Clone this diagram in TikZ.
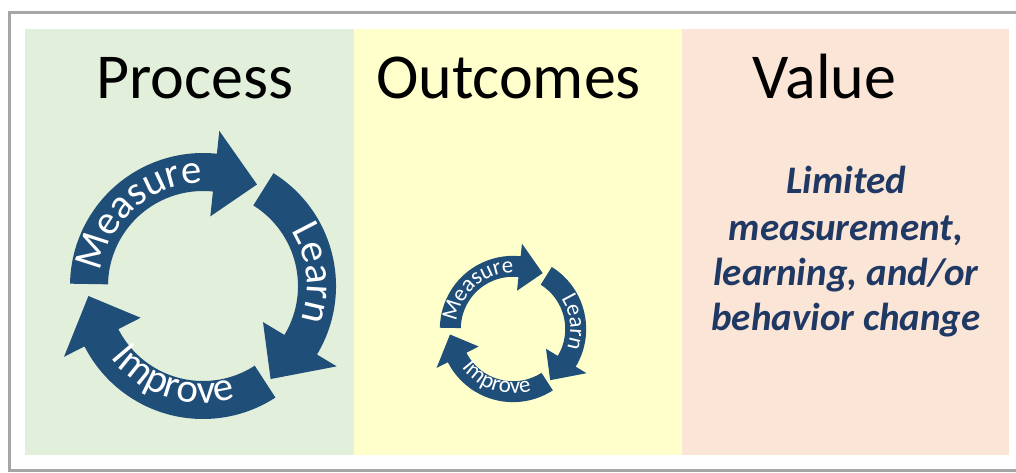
\documentclass[tikz,border=0pt]{standalone}
\usepackage{fontspec}
\setmainfont{Carlito}
\usetikzlibrary{decorations.text}

\definecolor{framegray}{HTML}{A6A6A6}
\definecolor{procgreen}{HTML}{E2EFDA}
\definecolor{outyellow}{HTML}{FFFFCC}
\definecolor{valpeach}{HTML}{FBE5D6}
\definecolor{cycleblue}{HTML}{1F4E79}
\definecolor{valuetext}{HTML}{1F3864}

\tikzset{
  panel/.style={fill=#1, draw=none},
  heading/.style={font=\fontsize{64}{64}\selectfont, text=black, inner sep=0pt, anchor=base},
  valueline/.style={font=\fontsize{39}{39}\selectfont\bfseries\itshape, text=valuetext, inner sep=0pt, anchor=base},
}

% one curved arrow of the cycle: tail angle, head base angle, tip angle
\newcommand\cyclearrow[3]{%
  \fill[cycleblue] (#1:133) arc[start angle=#1, end angle=#2, radius=133]
    -- (#2:156) -- (#3:115) -- (#2:70) -- (#2:95)
    arc[start angle=#2, end angle=#1, radius=95] -- cycle;}

% a word written along an arc of the cycle
\newcommand\arcword[5]{% start angle, end angle, radius, font size, word
  \path[decorate, decoration={text along path, text align=center, text color=white,
      text={|\fontsize{#4}{#4}\selectfont|#5}}]
    (#1:#3) arc[start angle=#1, end angle=#2, radius=#3];}

% the Measure / Learn / Improve cycle: centre x, centre y, scale, font size
\newcommand\drawcycle[4]{%
  \begin{scope}[shift={(#1,#2)}, scale=#3]
    \cyclearrow{179}{84}{62}
    \cyclearrow{58}{-31}{-54}
    \cyclearrow{-57}{-153}{-175}
    \arcword{181}{81}{103}{#4}{Measure}
    \arcword{56.5}{-43.5}{104}{#4}{Learn}
    \arcword{202}{302}{117}{#4}{Improve}
  \end{scope}}

\begin{document}
\begin{tikzpicture}[x=1pt, y=1pt]
  \useasboundingbox (0,0) rectangle (1016,472);

  % outer frame, open on the right
  \draw[framegray, line width=3pt] (1020,459.5) -- (9.5,459.5) -- (9.5,1.5) -- (1020,1.5);

  % three coloured panels
  \fill[panel=procgreen] (25,17) rectangle (353.5,443);
  \fill[panel=outyellow] (353.5,17) rectangle (681.5,443);
  \fill[panel=valpeach]  (681.5,17) rectangle (1009,443);

  % headings
  \node[heading] (process)  at (195,373)   {Process};
  \node[heading] (outcomes) at (508.5,373) {Outcomes};
  \node[heading] (value)    at (824.5,373) {Value};

  % cycles
  \drawcycle{203}{186}{1}{41}
  \drawcycle{513}{143}{0.55}{23}

  % value statement
  \node[valueline] (v1) at (846,279) {Limited};
  \node[valueline] (v2) at (846,232) {measurement,};
  \node[valueline] (v3) at (846,187) {learning, and/or};
  \node[valueline] (v4) at (846,142) {behavior change};
\end{tikzpicture}
\end{document}
